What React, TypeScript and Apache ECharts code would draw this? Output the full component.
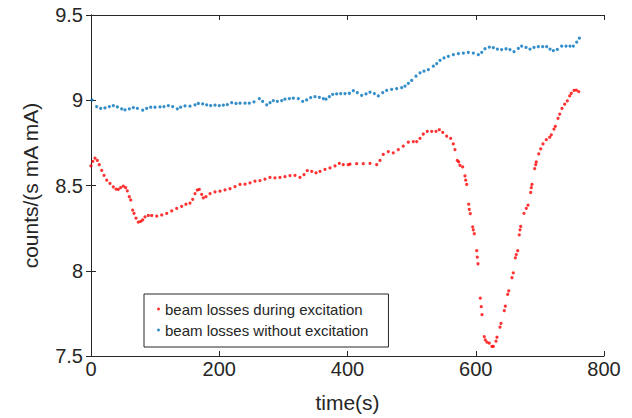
import React, { useEffect, useRef } from "react";
import * as echarts from "echarts";

const xTicks = [0, 200, 400, 600, 800];
const yTicks = [7.5, 8, 8.5, 9, 9.5];

const legendNames = ["beam losses during excitation", "beam losses without excitation"];

const redTime = [0, 2.7, 6.2, 9.8, 12.9, 16.7, 20.3, 24.5, 29.6, 34.8, 39, 42.6, 46.3, 50.4, 54.1, 56.6, 59.7, 61.9, 65, 67.1, 70.2, 73.8, 77.5, 80.6, 84.2, 89.4, 94.7, 102.5, 110.3, 118.1, 125.9, 133.6, 141.4, 148.1, 154.4, 158.6, 162.2, 165.8, 168.9, 172.6, 175.1, 179.3, 185.6, 193.4, 201.2, 209, 216.8, 224.6, 232.4, 240.2, 248, 255.7, 263.5, 271.3, 279.1, 286.9, 294.7, 302.5, 310.3, 318.1, 325.9, 332.2, 337.3, 344.2, 350.9, 357.1, 364.9, 372.7, 380.5, 387.2, 393.4, 401.2, 403.9, 414.3, 424.6, 435.1, 445.5, 450.7, 455.8, 463.6, 471.4, 479.2, 487, 494.8, 502.6, 507.9, 513.1, 518.2, 524.4, 531.3, 538, 543.2, 548.5, 554.7, 560.9, 565, 567.6, 571.2, 573.4, 575.4, 579.6, 583.2, 584.3, 585.9, 589, 589.9, 591.5, 595.2, 596.2, 597.7, 601.5, 602.4, 603.5, 607.1, 608.6, 609.7, 613.3, 614.9, 617.5, 621.1, 625.3, 627.4, 631.6, 633.1, 637.8, 639.4, 644.5, 646.1, 649.8, 651.4, 656.5, 658.6, 661.7, 663.2, 665.4, 667.9, 669, 670.1, 675.2, 678.8, 681.5, 685.7, 686.6, 687.7, 691.9, 693.5, 694.4, 698.2, 701.3, 704.9, 710, 715.3, 717.8, 722, 724.1, 728.3, 730.9, 734.5, 738.7, 742.8, 746.5, 749, 753.2, 756.8, 760.5];
const redValue = [8.615, 8.641, 8.661, 8.647, 8.622, 8.589, 8.56, 8.531, 8.512, 8.492, 8.479, 8.477, 8.488, 8.496, 8.487, 8.469, 8.434, 8.415, 8.356, 8.337, 8.308, 8.285, 8.289, 8.298, 8.316, 8.324, 8.324, 8.321, 8.327, 8.337, 8.351, 8.366, 8.378, 8.39, 8.397, 8.419, 8.453, 8.473, 8.477, 8.448, 8.428, 8.434, 8.453, 8.463, 8.467, 8.475, 8.481, 8.494, 8.506, 8.508, 8.516, 8.525, 8.529, 8.537, 8.547, 8.545, 8.547, 8.552, 8.558, 8.56, 8.548, 8.564, 8.587, 8.583, 8.574, 8.583, 8.595, 8.603, 8.615, 8.63, 8.622, 8.622, 8.626, 8.628, 8.628, 8.63, 8.622, 8.647, 8.682, 8.699, 8.692, 8.711, 8.731, 8.754, 8.758, 8.758, 8.777, 8.802, 8.818, 8.818, 8.818, 8.827, 8.812, 8.789, 8.777, 8.744, 8.711, 8.647, 8.638, 8.618, 8.609, 8.556, 8.531, 8.506, 8.39, 8.36, 8.335, 8.258, 8.24, 8.217, 8.118, 8.08, 8.041, 7.839, 7.789, 7.742, 7.614, 7.595, 7.581, 7.576, 7.556, 7.556, 7.587, 7.61, 7.669, 7.692, 7.766, 7.792, 7.862, 7.882, 7.959, 7.988, 8.076, 8.095, 8.118, 8.211, 8.24, 8.26, 8.337, 8.366, 8.385, 8.459, 8.487, 8.506, 8.599, 8.622, 8.638, 8.686, 8.715, 8.744, 8.769, 8.783, 8.797, 8.831, 8.847, 8.894, 8.919, 8.952, 8.977, 8.996, 9.025, 9.041, 9.058, 9.06, 9.051];

const blueTime = [1.6, 8.8, 15.1, 21.8, 28.6, 34.8, 41.1, 47.8, 53, 59.8, 66, 72.3, 80.6, 86.8, 93.1, 99.8, 107.6, 113.8, 120.6, 127.4, 134.6, 139.8, 146.6, 154.4, 162.2, 167.4, 174.1, 180.4, 186.6, 193.4, 200.1, 206.4, 212.6, 219.4, 226.1, 232.4, 240.2, 246.9, 254.2, 262.5, 267.7, 274, 279.2, 284.3, 290.6, 297.4, 302.5, 309.3, 315.5, 323.3, 330.1, 336.3, 342.6, 349.3, 356.1, 362.3, 366.5, 371.7, 376.9, 383.1, 389.4, 396.1, 402.9, 409.1, 415.3, 422.1, 428.9, 435.1, 441.9, 448.1, 454.9, 461.1, 468.9, 476.7, 484.5, 489.7, 494.9, 500.1, 506.8, 513.1, 519.3, 526.1, 533.9, 539.1, 544.3, 550.5, 557.3, 565.1, 572.9, 580.7, 588.4, 596.2, 604, 609.3, 614.4, 621.2, 627.4, 633.7, 640.4, 647.2, 653.4, 659.7, 666.4, 671.6, 678.4, 684.6, 690.9, 697.6, 704.4, 710.6, 715.8, 721, 727.2, 734, 740.8, 747, 752.2, 757.4, 761.6];
const blueValue = [9.002, 8.963, 8.952, 8.955, 8.963, 8.969, 8.961, 8.95, 8.944, 8.95, 8.957, 8.953, 8.942, 8.953, 8.959, 8.959, 8.961, 8.963, 8.969, 8.963, 8.95, 8.959, 8.967, 8.965, 8.973, 8.981, 8.979, 8.973, 8.969, 8.971, 8.969, 8.971, 8.975, 8.986, 8.981, 8.983, 8.983, 8.983, 8.99, 9.01, 8.994, 8.973, 8.986, 8.998, 8.994, 8.998, 9.006, 9.01, 9.012, 9.01, 8.994, 9.002, 9.016, 9.021, 9.017, 9.01, 9.006, 9.021, 9.035, 9.037, 9.039, 9.039, 9.041, 9.056, 9.045, 9.029, 9.037, 9.047, 9.039, 9.025, 9.045, 9.058, 9.064, 9.068, 9.074, 9.083, 9.099, 9.116, 9.141, 9.161, 9.171, 9.18, 9.2, 9.215, 9.234, 9.248, 9.258, 9.267, 9.273, 9.277, 9.281, 9.277, 9.267, 9.281, 9.302, 9.312, 9.308, 9.3, 9.297, 9.302, 9.297, 9.285, 9.304, 9.318, 9.31, 9.3, 9.31, 9.314, 9.314, 9.314, 9.3, 9.291, 9.298, 9.318, 9.318, 9.318, 9.318, 9.341, 9.364];

const FONT = "'Liberation Sans', Arial, Helvetica, sans-serif";
const INK = "#262626";

export default function App() {
  const ref = useRef<HTMLDivElement>(null);
  useEffect(() => {
    if (!ref.current) return;
    const chart = echarts.init(ref.current, undefined, { renderer: "svg" });
    const red = redTime.map((t, i) => [t, redValue[i]]);
    const blue = blueTime.map((t, i) => [t, blueValue[i]]);
    const xMin = xTicks[0], xMax = xTicks[xTicks.length - 1];
    const yMin = yTicks[0], yMax = yTicks[yTicks.length - 1];
    const axisCommon = {
      axisLine: { show: true, lineStyle: { color: INK, width: 1 } },
      axisTick: { show: true, inside: true, length: 5, lineStyle: { color: INK } },
      splitLine: { show: false },
    };
    chart.setOption({
      animation: false,
      backgroundColor: "#ffffff",
      grid: { left: 91, right: 28, top: 15, bottom: 59, containLabel: false },
      legend: {
        data: legendNames,
        orient: "vertical",
        left: 144,
        top: 294,
        icon: "circle",
        itemWidth: 3,
        itemHeight: 3,
        itemGap: 3,
        padding: [6, 20, 8, 13],
        backgroundColor: "#ffffff",
        borderColor: INK,
        borderWidth: 1,
        textStyle: { fontFamily: FONT, fontSize: 15, color: INK, lineHeight: 18 },
      },
      xAxis: [
        {
          type: "value", min: xMin, max: xMax, interval: 200,
          name: "time(s)", nameLocation: "middle", nameGap: 36,
          nameTextStyle: { fontFamily: FONT, fontSize: 21, color: INK },
          axisLabel: { fontFamily: FONT, fontSize: 20, color: INK, margin: 3 },
          ...axisCommon,
        },
        {
          type: "value", position: "top", min: xMin, max: xMax, interval: 200,
          axisLabel: { show: false }, ...axisCommon,
        },
      ],
      yAxis: [
        {
          type: "value", min: yMin, max: yMax, interval: 0.5,
          name: "counts/(s mA mA)", nameLocation: "middle", nameGap: 50,
          nameTextStyle: { fontFamily: FONT, fontSize: 21, color: INK },
          axisLabel: { fontFamily: FONT, fontSize: 20, color: INK, margin: 8 },
          ...axisCommon,
        },
        {
          type: "value", position: "right", min: yMin, max: yMax, interval: 0.5,
          axisLabel: { show: false }, ...axisCommon,
        },
      ],
      series: [
        {
          name: legendNames[0], type: "scatter", data: red, symbol: "circle", symbolSize: 3.2,
          itemStyle: { color: "#ff0000" }, xAxisIndex: 0, yAxisIndex: 0,
        },
        {
          name: legendNames[1], type: "scatter", data: blue, symbol: "circle", symbolSize: 3.2,
          itemStyle: { color: "#0072bd" }, xAxisIndex: 0, yAxisIndex: 0,
        },
      ],
    });
    return () => chart.dispose();
  }, []);
  return (
    <div
      ref={ref}
      style={{ position: "absolute", left: 0, top: 0, width: 632, height: 418 }}
    />
  );
}
